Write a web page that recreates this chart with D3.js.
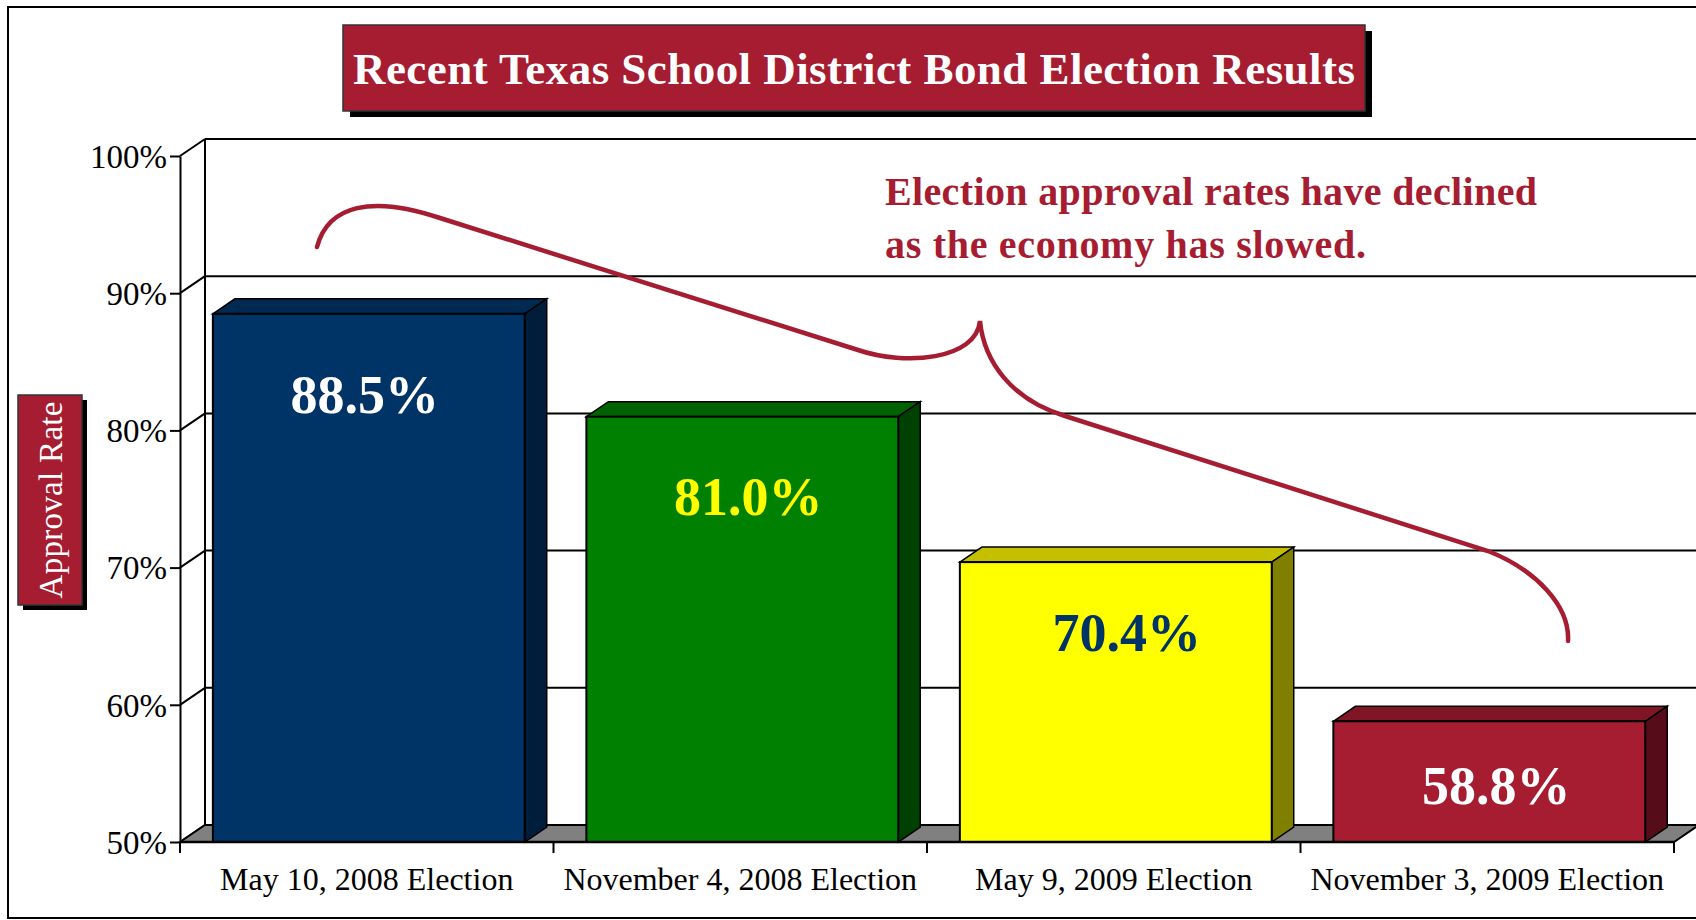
<!DOCTYPE html>
<html>
<head>
<meta charset="utf-8">
<script src="https://cdn.jsdelivr.net/npm/d3@7"></script>
<style>
  body { margin: 0; background: #fff; }
  svg { display: block; }
  text { font-family: "Liberation Serif", "DejaVu Serif", serif; }
</style>
</head>
<body>
<svg id="chart" width="1696" height="920"></svg>
<script>
// data
const elections = ['May 10, 2008 Election', 'November 4, 2008 Election', 'May 9, 2009 Election', 'November 3, 2009 Election'];
const approval = [88.5, 81.0, 70.4, 58.8];
const yTicks = [50, 60, 70, 80, 90, 100];

// face colours per bar: front, top, side, label
const fronts = ['#003366', '#008000', '#ffff00', '#a61c31'];
const tops = ['#002a52', '#006200', '#c4c000', '#801526'];
const sides = ['#001e3c', '#004000', '#808000', '#570d19'];
const labelColors = ['#ffffff', '#ffff00', '#003366', '#ffffff'];
// hand placed label nudges (as in the original slide)
const labelDy = [99, 98, 89, 83];
const labelDx = [-4, 6, 11, 7];

const red = '#a61c31';
const svg = d3.select('#chart');

// wall / bar depth
const [wdx, wdy] = [25, -17];
const [bdx, bdy] = [22, -15];

const y = d3.scaleLinear().domain([50, 100]).range([842, 156]);
const x = d3.scaleBand().domain(elections).range([180, 1674]);
const bw = x.bandwidth() * 0.835;
const bx = d => x(d) + x.bandwidth() * 0.088;

//outer frame
svg.append('rect').attr('x', 8).attr('y', 7).attr('width', 1720).attr('height', 911)
  .attr('fill', 'none').attr('stroke', '#000').attr('stroke-width', 2);

//back wall grid lines
const [x0, x1] = [x.range()[0], x.range()[1]];
svg.selectAll('line.grid').data(yTicks).enter().append('line').attr('class', 'grid')
  .attr('x1', x0 + wdx).attr('x2', x1 + wdx)
  .attr('y1', d => y(d) + wdy).attr('y2', d => y(d) + wdy)
  .attr('stroke', '#000').attr('stroke-width', 2);

//left wall: back edge and diagonals
svg.append('line').attr('x1', x0 + wdx).attr('x2', x0 + wdx)
  .attr('y1', y(100) + wdy).attr('y2', y(50) + wdy).attr('stroke', '#000').attr('stroke-width', 2);
svg.selectAll('line.diag').data(yTicks).enter().append('line').attr('class', 'diag')
  .attr('x1', x0).attr('y1', d => y(d)).attr('x2', x0 + wdx).attr('y2', d => y(d) + wdy)
  .attr('stroke', '#000').attr('stroke-width', 2);

//floor
svg.append('path')
  .attr('d', `M${x0},${y(50)} L${x0 + wdx},${y(50) + wdy} L${x1 + wdx},${y(50) + wdy} L${x1},${y(50)} Z`)
  .attr('fill', '#808080').attr('stroke', '#000').attr('stroke-width', 2);

//y axis
const yAxis = svg.append('g').attr('transform', `translate(${x0},0)`)
  .call(d3.axisLeft(y).tickValues(yTicks).tickFormat(d => d + '%').tickSize(10).tickSizeOuter(0).tickPadding(3));
yAxis.select('.domain').attr('stroke', '#000').attr('stroke-width', 2);
yAxis.selectAll('.tick line').attr('stroke', '#000').attr('stroke-width', 2);
yAxis.selectAll('.tick text').attr('font-size', 33).attr('font-family', '"Liberation Serif", serif')
  .attr('fill', '#000').attr('dy', '0.34em');

//bars
const bars = svg.selectAll('g.bar').data(elections).enter().append('g').attr('class', 'bar');
bars.append('path') // top face
  .attr('d', (d, i) => {
    const [l, t] = [bx(d), y(approval[i])];
    return `M${l},${t} L${l + bdx},${t + bdy} L${l + bw + bdx},${t + bdy} L${l + bw},${t} Z`;
  })
  .attr('fill', (d, i) => tops[i]).attr('stroke', '#000').attr('stroke-width', 1.5);
bars.append('path') // side face
  .attr('d', (d, i) => {
    const [r, t, b] = [bx(d) + bw, y(approval[i]), y(50)];
    return `M${r},${t} L${r + bdx},${t + bdy} L${r + bdx},${b + bdy} L${r},${b} Z`;
  })
  .attr('fill', (d, i) => sides[i]).attr('stroke', '#000').attr('stroke-width', 1.5);
bars.append('rect') // front face
  .attr('x', d => bx(d)).attr('y', (d, i) => y(approval[i]))
  .attr('width', bw).attr('height', (d, i) => y(50) - y(approval[i]))
  .attr('fill', (d, i) => fronts[i]).attr('stroke', '#000').attr('stroke-width', 2);

bars.append('text')
  .attr('x', (d, i) => bx(d) + bw / 2 + labelDx[i])
  .attr('y', (d, i) => y(approval[i]) + labelDy[i])
  .attr('text-anchor', 'middle').attr('font-size', 54).attr('font-weight', 'bold')
  .attr('fill', (d, i) => labelColors[i])
  .text((d, i) => approval[i].toFixed(1) + '%');

//front floor edge
svg.append('line').attr('x1', x0).attr('x2', x1).attr('y1', y(50)).attr('y2', y(50))
  .attr('stroke', '#000').attr('stroke-width', 2.5);

//x axis: labels centred, ticks at band edges
const xAxis = svg.append('g').attr('transform', `translate(0,${y(50)})`)
  .call(d3.axisBottom(x).tickSize(0).tickPadding(25));
xAxis.select('.domain').remove();
xAxis.selectAll('.tick text').attr('font-size', 32).attr('font-family', '"Liberation Serif", serif')
  .attr('fill', '#000').attr('dy', '0.71em');
svg.selectAll('line.xtick').data(d3.range(elections.length + 1)).enter().append('line').attr('class', 'xtick')
  .attr('x1', i => x0 + i * x.step()).attr('x2', i => x0 + i * x.step())
  .attr('y1', y(50)).attr('y2', y(50) + 11).attr('stroke', '#000').attr('stroke-width', 2);

//annotation brace
svg.append('path')
  .attr('d', 'M317,247 C328,205 372,195 440,218 L858,350 C905,366 976,360 980,321 C984,362 1012,400 1065,416 L1488,551 C1536,570 1570,606 1568,641')
  .attr('fill', 'none').attr('stroke', red).attr('stroke-width', 4.5).attr('stroke-linecap', 'round');

const note = svg.append('text').attr('font-size', 40).attr('font-weight', 'bold').attr('fill', red);
note.append('tspan').attr('x', 885).attr('y', 205).attr('textLength', 652).attr('lengthAdjust', 'spacing')
  .text('Election approval rates have declined');
note.append('tspan').attr('x', 885).attr('y', 258).attr('textLength', 481).attr('lengthAdjust', 'spacing')
  .text('as the economy has slowed.');

//title box
svg.append('rect').attr('x', 350).attr('y', 31).attr('width', 1022).attr('height', 86).attr('fill', '#000');
svg.append('rect').attr('x', 343).attr('y', 25).attr('width', 1022).attr('height', 86)
  .attr('fill', red).attr('stroke', '#333').attr('stroke-width', 1.5);
svg.append('text').attr('x', 854).attr('y', 84).attr('text-anchor', 'middle')
  .attr('font-size', 45).attr('font-weight', 'bold').attr('fill', '#fff')
  .attr('textLength', 1002).attr('lengthAdjust', 'spacing')
  .text('Recent Texas School District Bond Election Results');

//y axis title box
svg.append('rect').attr('x', 23).attr('y', 400).attr('width', 64).attr('height', 210).attr('fill', '#000');
svg.append('rect').attr('x', 18).attr('y', 395).attr('width', 64).attr('height', 210)
  .attr('fill', red).attr('stroke', '#333').attr('stroke-width', 1.5);
svg.append('text').attr('transform', 'translate(62,500) rotate(-90)').attr('text-anchor', 'middle')
  .attr('font-size', 33).attr('fill', '#fff').attr('textLength', 197).attr('lengthAdjust', 'spacing')
  .text('Approval Rate');
</script>
</body>
</html>
